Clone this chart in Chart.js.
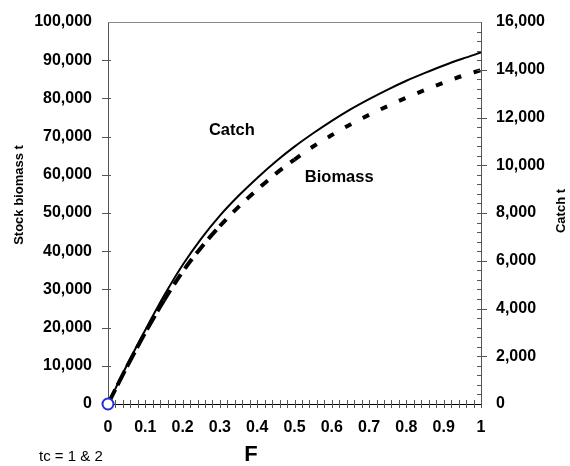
<!DOCTYPE html>
<html>
<head>
<meta charset="utf-8">
<script src="https://cdn.jsdelivr.net/npm/chart.js@4.4.1/dist/chart.umd.min.js"></script>
<style>
  html, body { margin: 0; padding: 0; background: #fff; }
  #wrap { width: 570px; height: 466px; }
</style>
</head>
<body>
<div id="wrap"><canvas id="graficaF" width="570" height="466"></canvas></div>
<script>
// valores
const fValues = [0, 0.05, 0.1, 0.15, 0.2, 0.25, 0.3, 0.35, 0.4, 0.45, 0.5,
                 0.55, 0.6, 0.65, 0.7, 0.75, 0.8, 0.85, 0.9, 0.95, 1];
const catchValues = [0, 1600, 3100, 4530, 5820, 6930, 7890, 8720, 9470, 10160, 10780,
                     11340, 11860, 12340, 12770, 13170, 13540, 13870, 14180, 14460, 14720];
const biomassValues = [0, 9600, 18700, 27100, 34600, 41000, 46600, 51600, 56100, 60300, 64000,
                       67400, 70400, 73200, 75700, 78000, 80200, 82200, 84100, 85900, 87400];
const xTicks = [0, 0.1, 0.2, 0.3, 0.4, 0.5, 0.6, 0.7, 0.8, 0.9, 1];

const FONT = "'Liberation Sans', Arial, sans-serif";
Chart.defaults.font.family = FONT;
Chart.defaults.color = '#000';

const toPoints = (ys) => fValues.map((f, i) => ({ x: f, y: ys[i] }));

// marcas de los ejes (cruzadas) y textos sueltos
const extrasPlugin = {
  id: 'extras',
  afterDraw(chart) {
    const { ctx, chartArea: a, scales } = chart;
    const x = scales.x, y = scales.y, y1 = scales.y1;
    ctx.save();
    // linea superior
    ctx.strokeStyle = '#888';
    ctx.lineWidth = 1;
    ctx.beginPath();
    ctx.moveTo(a.left, a.top + 0.5);
    ctx.lineTo(a.right, a.top + 0.5);
    ctx.stroke();

    ctx.strokeStyle = '#555';
    ctx.beginPath();
    for (let i = 1; i <= 50; i++) {
      const px = Math.round(x.getPixelForValue(i * 0.02)) + 0.5;
      ctx.moveTo(px, a.bottom - 4);
      ctx.lineTo(px, a.bottom + 4);
    }
    for (let v = 10000; v <= 90000; v += 10000) {
      const py = Math.round(y.getPixelForValue(v)) + 0.5;
      ctx.moveTo(a.left - 6, py);
      ctx.lineTo(a.left + 3, py);
    }
    for (let v = 400; v < 16000; v += 400) {
      const py = Math.round(y1.getPixelForValue(v)) + 0.5;
      if (v % 2000 === 0) {
        ctx.moveTo(a.right - 4, py);
        ctx.lineTo(a.right + 6, py);
      } else {
        ctx.moveTo(a.right - 4, py);
        ctx.lineTo(a.right, py);
      }
    }
    ctx.stroke();

    ctx.fillStyle = '#000';
    ctx.textAlign = 'center';
    ctx.textBaseline = 'middle';
    ctx.font = 'bold 16.5px ' + FONT;
    ctx.fillText('Catch', x.getPixelForValue(0.332), y.getPixelForValue(71500));
    ctx.fillText('Biomass', x.getPixelForValue(0.62), y.getPixelForValue(59400));

    ctx.font = 'bold 22px ' + FONT;
    ctx.fillText('F', 251, 455);

    ctx.font = '15px ' + FONT;
    ctx.textAlign = 'left';
    ctx.fillText('tc = 1 & 2', 39, 457);

    ctx.font = 'bold 13px ' + FONT;
    ctx.textAlign = 'center';
    ctx.translate(19, 195);
    ctx.rotate(-Math.PI / 2);
    ctx.fillText('Stock biomass t', 0, 0);
    ctx.setTransform(1, 0, 0, 1, 0, 0);
    ctx.translate(561, 211);
    ctx.rotate(-Math.PI / 2);
    ctx.fillText('Catch t', 0, 0);
    ctx.restore();
  }
};

document.addEventListener('DOMContentLoaded', () => {
  const ctxF = document.getElementById('graficaF').getContext('2d');
  new Chart(ctxF, {
    type: 'line',
    data: {
      datasets: [{
        label: 'Catch',
        data: toPoints(catchValues),
        yAxisID: 'y1',
        borderColor: '#000',
        borderWidth: 2,
        pointRadius: 0,
        cubicInterpolationMode: 'monotone',
        order: 1
      }, {
        label: 'Biomass',
        data: toPoints(biomassValues),
        yAxisID: 'y',
        borderColor: '#000',
        borderWidth: 4,
        pointRadius: 0,
        cubicInterpolationMode: 'monotone',
        segment: {
          borderDash: c => {
            const f = c.p0.parsed.x;
            if (f < 0.15) return [16, 5];
            if (f < 0.3) return [12, 7];
            if (f < 0.5) return [9, 10];
            return [7, 13];
          }
        },
        order: 2
      }, {
        label: 'origen',
        data: [{ x: 0, y: 0 }],
        yAxisID: 'y',
        showLine: false,
        pointRadius: 5.5,
        pointBorderWidth: 2,
        pointBorderColor: '#2a2ad8',
        pointBackgroundColor: '#fff',
        clip: false,
        order: 0
      }]
    },
    options: {
      responsive: false,
      animation: false,
      layout: { padding: { top: 22, left: 0, right: 0, bottom: 0 } },
      plugins: { legend: { display: false }, tooltip: { enabled: false } },
      scales: {
        x: {
          type: 'linear',
          min: 0,
          max: 1,
          afterBuildTicks: s => { s.ticks = xTicks.map(v => ({ value: v })); },
          afterFit: s => { s.height = 62; },
          ticks: {
            padding: 6,
            maxRotation: 0,
            font: { size: 16, weight: 'bold' },
            callback: v => String(Math.round(v * 10) / 10)
          },
          grid: { display: false },
          border: { color: '#000', width: 1 }
        },
        y: {
          position: 'left',
          min: 0,
          max: 100000,
          afterFit: s => { s.width = 108; },
          ticks: {
            stepSize: 10000,
            padding: 8,
            font: { size: 16, weight: 'bold' },
            callback: v => v.toLocaleString('en-US')
          },
          grid: { display: false },
          border: { color: '#555', width: 1 }
        },
        y1: {
          position: 'right',
          min: 0,
          max: 16000,
          afterFit: s => { s.width = 89; },
          ticks: {
            stepSize: 2000,
            padding: 7,
            font: { size: 16, weight: 'bold' },
            callback: v => v.toLocaleString('en-US')
          },
          grid: { display: false },
          border: { color: '#555', width: 1 }
        }
      }
    },
    plugins: [extrasPlugin]
  });
});
</script>
</body>
</html>
